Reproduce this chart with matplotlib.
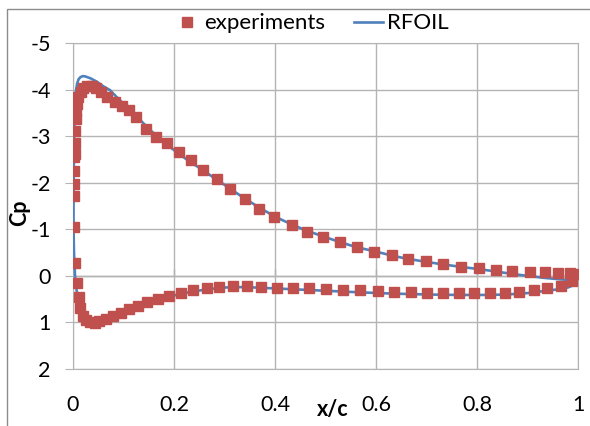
import matplotlib
matplotlib.use("Agg")
import matplotlib.pyplot as plt
from matplotlib.patches import Rectangle

plt.rcParams['font.family'] = ['Lato', 'DejaVu Sans']
plt.rcParams['axes.unicode_minus'] = False

# experiments, suction side (leading edge -> trailing edge)
exp_up_x = [0.002, 0.002, 0.002, 0.002, 0.003, 0.003, 0.003, 0.005, 0.006, 0.007,
            0.010, 0.015, 0.020, 0.028, 0.037, 0.046, 0.055, 0.068, 0.083, 0.098,
            0.110, 0.125, 0.144, 0.164, 0.186, 0.209, 0.234, 0.258, 0.285, 0.311,
            0.341, 0.369, 0.398, 0.433, 0.463, 0.496, 0.529, 0.562, 0.597, 0.631,
            0.664, 0.699, 0.733, 0.768, 0.803, 0.837, 0.870, 0.904, 0.935, 0.961,
            0.984, 1.0]
exp_up_cp = [-1.72, -1.97, -2.26, -2.56, -2.62, -2.85, -3.11, -3.36, -3.53, -3.69,
             -3.83, -3.95, -4.04, -4.08, -4.08, -4.04, -3.95, -3.85, -3.74, -3.64,
             -3.56, -3.42, -3.15, -2.99, -2.85, -2.67, -2.48, -2.28, -2.08, -1.87,
             -1.65, -1.44, -1.27, -1.10, -0.95, -0.83, -0.72, -0.61, -0.52, -0.44,
             -0.36, -0.31, -0.25, -0.20, -0.16, -0.13, -0.11, -0.09, -0.08, -0.07,
             -0.06, -0.03]

# experiments, pressure side
exp_lo_x = [0.002, 0.004, 0.007, 0.011, 0.014, 0.019, 0.025, 0.033, 0.043, 0.052,
            0.065, 0.080, 0.095, 0.111, 0.128, 0.147, 0.168, 0.190, 0.214, 0.238,
            0.265, 0.290, 0.316, 0.344, 0.372, 0.403, 0.436, 0.468, 0.501, 0.534,
            0.568, 0.603, 0.636, 0.669, 0.700, 0.733, 0.765, 0.794, 0.826, 0.855,
            0.884, 0.913, 0.939, 0.966, 0.988]
exp_lo_cp = [-1.04, -0.27, 0.16, 0.46, 0.69, 0.86, 0.95, 0.99, 1.01, 0.98,
             0.93, 0.87, 0.80, 0.72, 0.65, 0.57, 0.50, 0.43, 0.36, 0.30,
             0.25, 0.23, 0.21, 0.21, 0.23, 0.25, 0.25, 0.26, 0.28, 0.30,
             0.31, 0.32, 0.34, 0.35, 0.36, 0.37, 0.37, 0.37, 0.37, 0.36,
             0.34, 0.31, 0.27, 0.21, 0.12]

# RFOIL, TE -> LE along suction side, then LE -> TE along pressure side
rf_x = [1.0, 0.995, 0.96, 0.93, 0.90, 0.87, 0.84, 0.80, 0.77, 0.73,
        0.70, 0.66, 0.63, 0.60, 0.56, 0.53, 0.50, 0.46, 0.43, 0.40,
        0.37, 0.34, 0.31, 0.28, 0.25, 0.225, 0.20, 0.18, 0.159, 0.14,
        0.119, 0.10, 0.09, 0.073, 0.06, 0.047, 0.035, 0.025, 0.02, 0.015,
        0.011, 0.008, 0.006, 0.004, 0.003, 0.002, 0.0015, 0.001, 0.001, 0.002,
        0.004, 0.007, 0.011, 0.015, 0.02, 0.026, 0.033, 0.042, 0.05, 0.06,
        0.08, 0.10, 0.125, 0.15, 0.175, 0.20, 0.23, 0.265, 0.30, 0.34,
        0.38, 0.44, 0.50, 0.56, 0.63, 0.70, 0.76, 0.82, 0.86, 0.90,
        0.93, 0.96, 0.98, 1.0]
rf_cp = [0.14, 0.10, 0.07, 0.04, 0.0, -0.04, -0.09, -0.15, -0.19, -0.25,
         -0.30, -0.37, -0.44, -0.52, -0.62, -0.72, -0.83, -0.98, -1.12, -1.27,
         -1.46, -1.66, -1.88, -2.10, -2.32, -2.50, -2.70, -2.87, -3.07, -3.27,
         -3.50, -3.70, -3.80, -3.99, -4.07, -4.17, -4.24, -4.28, -4.29, -4.27,
         -4.22, -4.12, -3.98, -3.75, -3.40, -2.80, -2.20, -1.60, -1.00, -0.50,
         0.0, 0.30, 0.55, 0.72, 0.86, 0.95, 0.99, 1.0, 0.99, 0.96,
         0.89, 0.80, 0.70, 0.60, 0.50, 0.42, 0.35, 0.29, 0.25, 0.24,
         0.26, 0.29, 0.32, 0.35, 0.38, 0.40, 0.41, 0.41, 0.40, 0.37,
         0.33, 0.29, 0.25, 0.16]

xticks = [0, 0.2, 0.4, 0.6, 0.8, 1]
yticks = [-5, -4, -3, -2, -1, 0, 1, 2]

red = '#C0504D'
blue = '#4F81BD'
grid = '#b4b4b4'

fig = plt.figure(figsize=(5.9, 4.26), dpi=100)
ax = fig.add_axes([73/590, 1-369/426, 505/590, 326/426])

line, = ax.plot(rf_x, rf_cp, color=blue, lw=1.9, zorder=3, label='RFOIL')
pts, = ax.plot(exp_up_x + exp_lo_x, exp_up_cp + exp_lo_cp, ls='none', marker='s',
               ms=6.5, color=red, mec=red, zorder=4, label='experiments')

ax.set_xlim(0, 1)
ax.set_ylim(2, -5)
ax.set_xticks(xticks)
ax.set_xticklabels(['0', '0.2', '0.4', '0.6', '0.8', '1'])
ax.set_yticks(yticks)
ax.grid(True, color=grid, lw=1)
for s in ax.spines.values():
    s.set_color(grid)
ax.tick_params(axis='y', length=6, color=grid, pad=10, labelsize=15.5)
ax.tick_params(axis='x', length=0, pad=19, labelsize=15.5)

# horizontal axis crosses at Cp = 0
ax.axhline(0, color='#9a9a9a', lw=1, zorder=1)
ax.vlines(xticks, -0.15, 0, color='#9a9a9a', lw=1, zorder=1)

ax.set_xlabel('x/c', fontsize=15.5, fontweight='bold')
ax.xaxis.set_label_coords(0.515, -0.125)
ax.xaxis.label.set_va('center')
ax.set_ylabel('Cp', fontsize=15.5, fontweight='bold')
ax.yaxis.set_label_coords(-0.085, 0.48)

ax.legend(handles=[pts, line], ncol=2, frameon=False, fontsize=16,
          loc='center', bbox_to_anchor=(0.47, 1.06), handlelength=1.3,
          handletextpad=0.15, columnspacing=1.3, borderaxespad=0)

# chart area border
fig.add_artist(Rectangle((7/590, -0.1), 1.2, 1.1 - 9/426, transform=fig.transFigure,
                         fill=False, edgecolor='#8c8c8c', lw=1))

fig.savefig('out.png', dpi=100)
